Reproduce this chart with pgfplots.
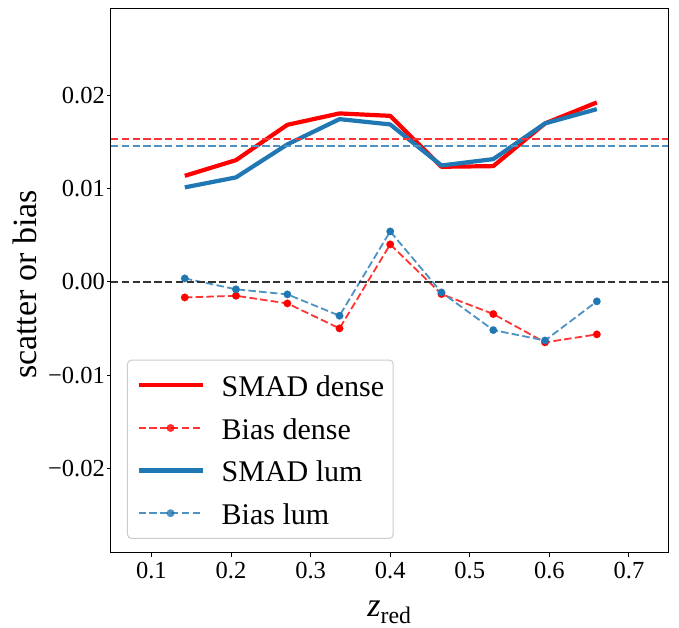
\documentclass[border=0pt]{standalone}
\usepackage{pgfplots}
\pgfplotsset{compat=1.18}
\usepackage{fontspec}
\setmainfont{Liberation Serif}
\definecolor{mplblue}{HTML}{1F77B4}
\definecolor{lightred}{RGB}{255,51,51}
\definecolor{lightblue}{RGB}{76,146,195}
\begin{document}
\begin{tikzpicture}
\begin{axis}[
  width=557bp, height=544bp, scale only axis,
  xmin=0.0492, xmax=0.749, ymin=-0.02905, ymax=0.02928,
  axis line style={line width=1bp},
  tick align=outside, xtick pos=bottom, ytick pos=left,
  major tick length=4bp,
  every tick/.style={black, line width=1bp},
  xtick={0.1,0.2,0.3,0.4,0.5,0.6,0.7},
  xticklabels={0.1,0.2,0.3,0.4,0.5,0.6,0.7},
  ytick={-0.02,-0.01,0,0.01,0.02},
  yticklabels={−0.02,−0.01,0.00,0.01,0.02},
  scaled y ticks=false, scaled x ticks=false,
  ticklabel style={font=\fontsize{24.5bp}{29bp}\selectfont, inner sep=0pt},
  xticklabel style={anchor=north, yshift=-5bp},
  yticklabel style={anchor=east, xshift=-2bp},
  xlabel={\textit{z}\textsubscript{red}},
  ylabel={scatter or bias},
  every axis x label/.style={at={(axis description cs:0.5,-0.1164)}, anchor=base, font=\fontsize{34bp}{40bp}\selectfont},
  every axis y label/.style={at={(axis description cs:-0.1329,0.493)}, anchor=base, rotate=90, font=\fontsize{34bp}{40bp}\selectfont},
  legend cell align=left,
  legend style={
    at={(axis description cs:0.0287,0.0252)}, anchor=south west,
    draw=black!20, line width=1bp, rounded corners=4bp,
    fill=white, fill opacity=0.8, text opacity=1,
    font=\fontsize{30bp}{36bp}\selectfont,
    nodes={inner sep=0pt, text height=29bp, text depth=6.6bp},
    row sep=7bp, column sep=17bp,
    inner xsep=9bp, inner ysep=7.5bp,
  },
  legend image code/.code={\draw[mark repeat=2,mark phase=2,#1] plot coordinates {(0bp,0bp) (32bp,0bp) (64bp,0bp)};},
]
\addplot[red, line width=4.2bp, line join=round] coordinates {
(0.1419,0.01136) (0.2062,0.01304) (0.2708,0.01683) (0.3363,0.01805) (0.4000,0.01779)
(0.4644,0.01233) (0.5295,0.01240) (0.5945,0.01698) (0.6596,0.01923)};
\addlegendentry{SMAD dense}
\addplot[lightred, line width=1.8bp, dash pattern=on 7.5bp off 3.3bp, mark=*, mark size=3.8bp, mark options={solid, draw=red, fill=red, line width=0.1bp}] coordinates {
(0.1419,-0.00168) (0.2062,-0.00150) (0.2708,-0.00232) (0.3363,-0.00500) (0.4000,0.00401)
(0.4644,-0.00132) (0.5295,-0.00346) (0.5945,-0.00650) (0.6596,-0.00564)};
\addlegendentry{Bias dense}
\addplot[mplblue, line width=4.2bp, line join=round] coordinates {
(0.1419,0.01012) (0.2062,0.01119) (0.2708,0.01473) (0.3363,0.01744) (0.4000,0.01687)
(0.4644,0.01247) (0.5295,0.01315) (0.5945,0.01698) (0.6596,0.01851)};
\addlegendentry{SMAD lum}
\addplot[lightblue, line width=1.8bp, dash pattern=on 7.5bp off 3.3bp, mark=*, mark size=3.8bp, mark options={solid, draw=mplblue, fill=mplblue, line width=0.1bp}] coordinates {
(0.1419,0.00036) (0.2062,-0.00081) (0.2708,-0.00135) (0.3363,-0.00364) (0.4000,0.00540)
(0.4644,-0.00114) (0.5295,-0.00518) (0.5945,-0.00630) (0.6596,-0.00210)};
\addlegendentry{Bias lum}
\addplot[lightred, line width=1.8bp, dash pattern=on 7.5bp off 3.3bp, forget plot] coordinates {(0.0492,0.01529) (0.749,0.01529)};
\addplot[lightblue, line width=1.8bp, dash pattern=on 7.5bp off 3.3bp, forget plot] coordinates {(0.0492,0.01458) (0.749,0.01458)};
\addplot[black!80, line width=1.8bp, dash pattern=on 7.5bp off 3.3bp, forget plot] coordinates {(0.0492,0) (0.749,0)};
\end{axis}
\path (current axis.south west) ++(-111bp,-75.3bp) rectangle ++(679bp,628bp);
\end{tikzpicture}
\end{document}
